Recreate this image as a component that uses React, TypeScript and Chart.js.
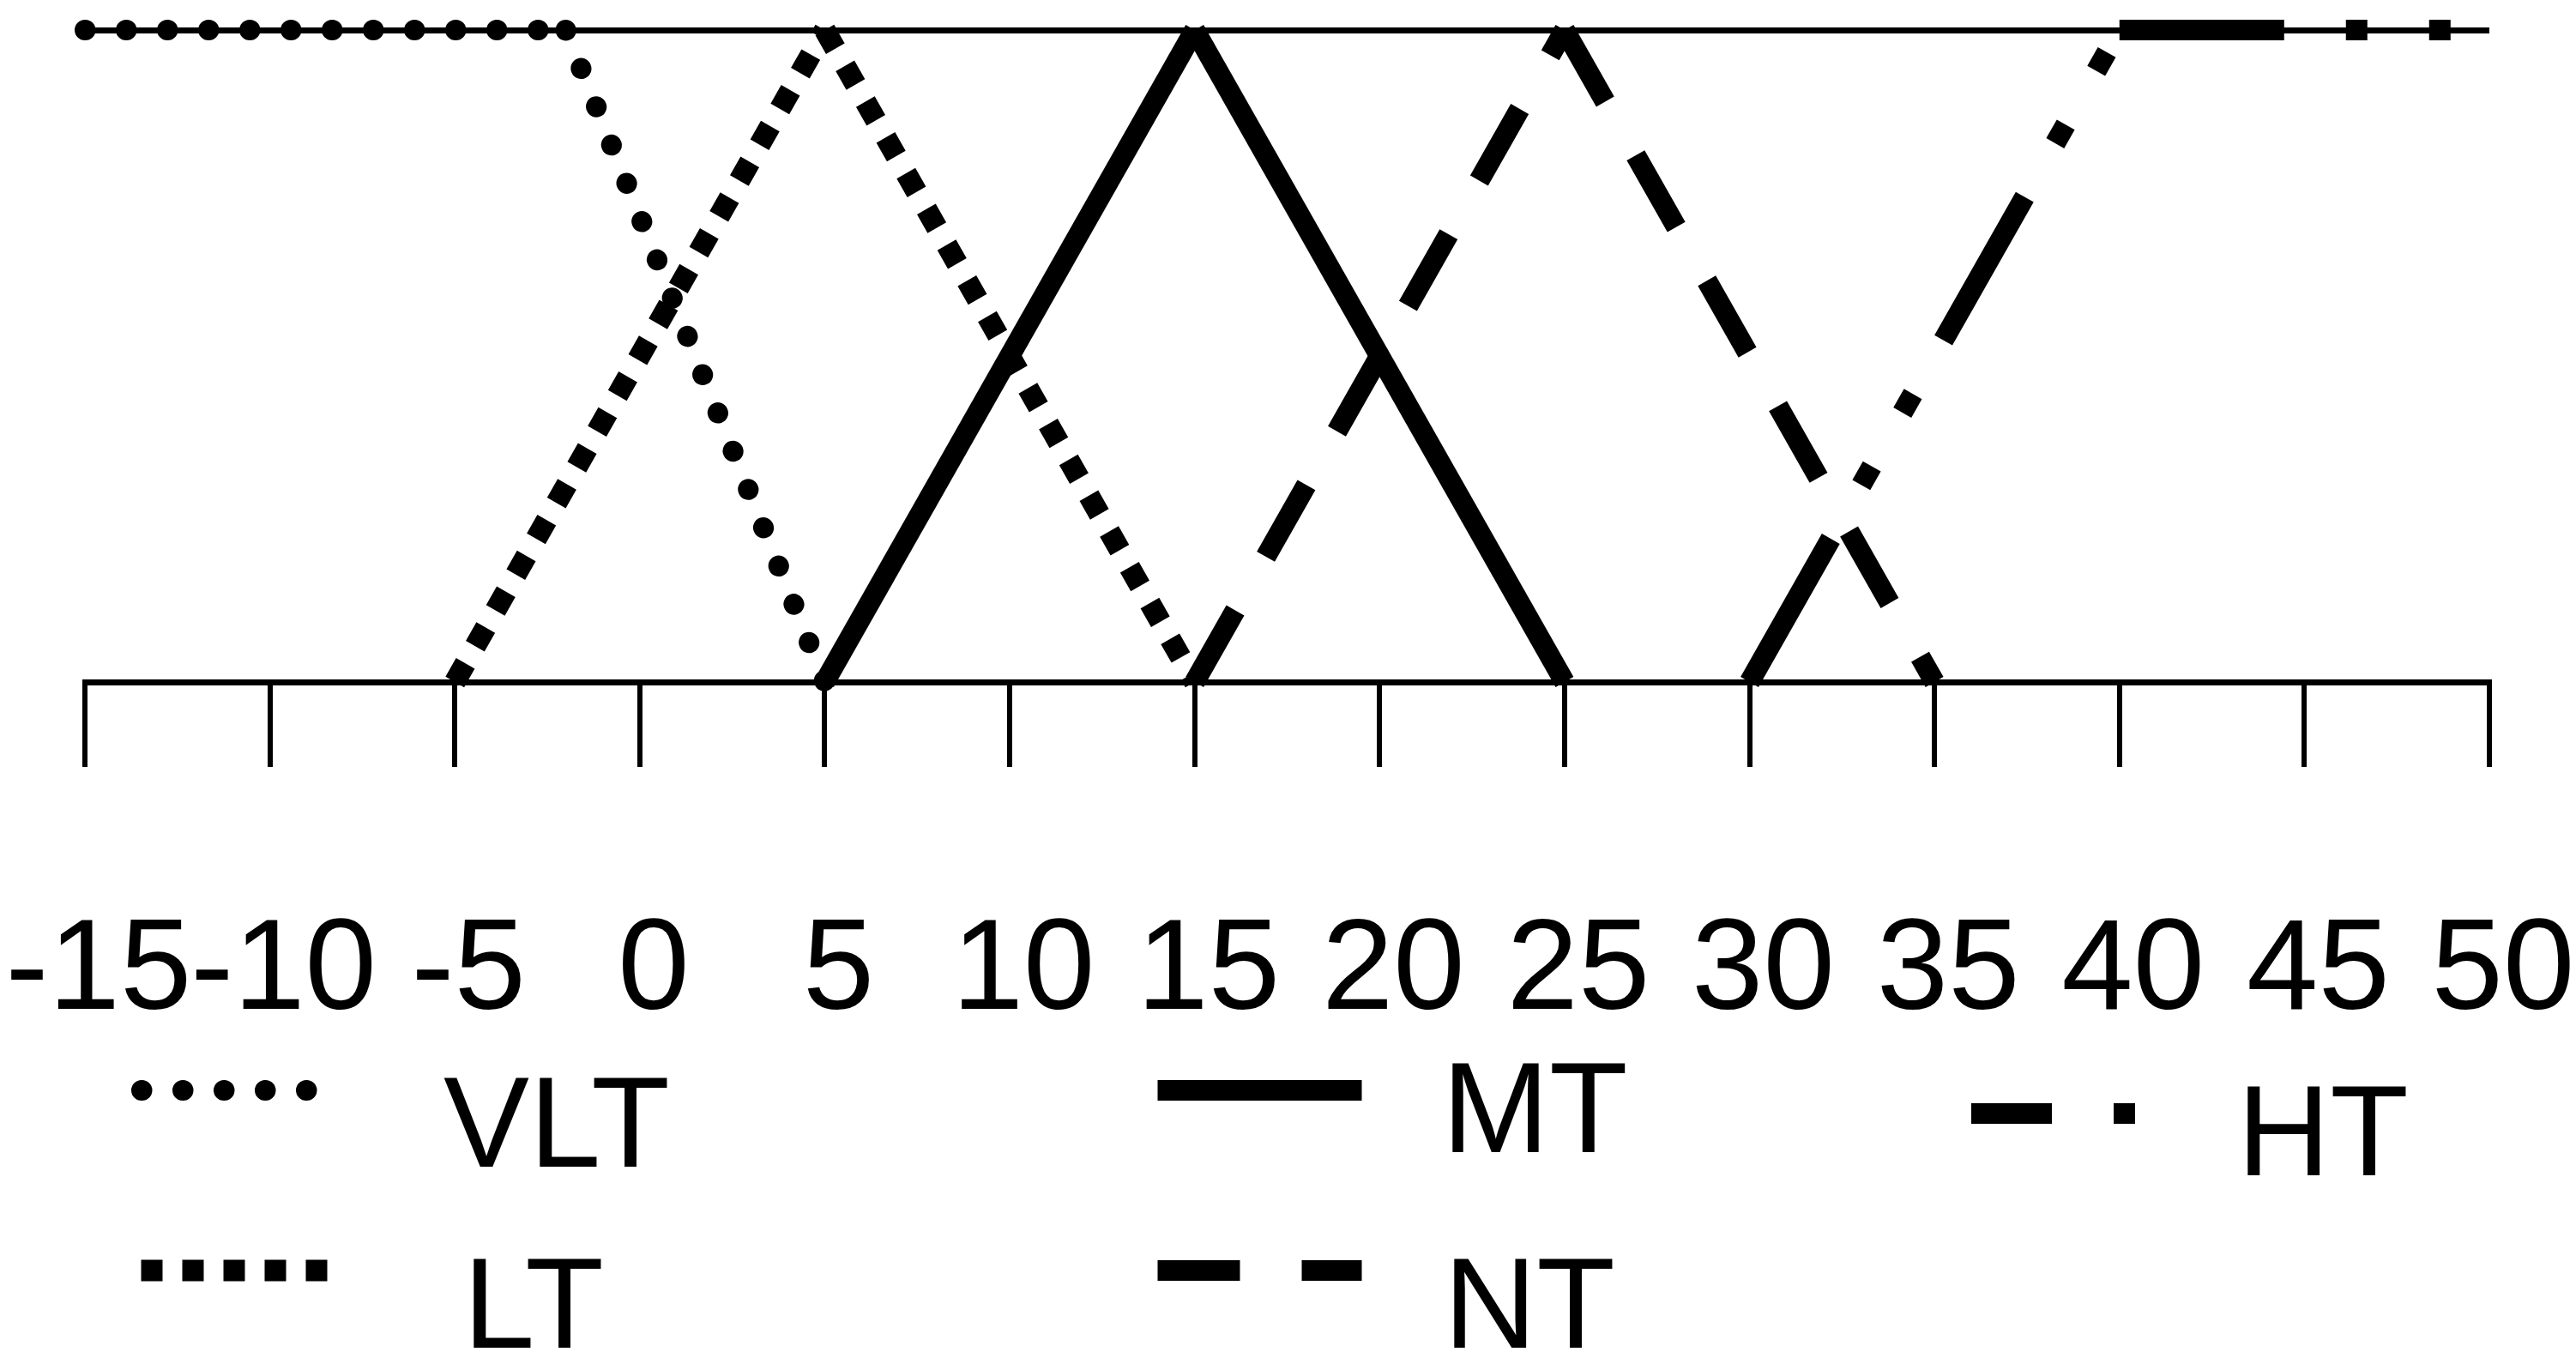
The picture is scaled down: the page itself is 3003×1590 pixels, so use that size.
import React, { useEffect, useRef } from 'react';
import { Chart, registerables } from 'chart.js';

Chart.register(...registerables);

// ---- data ----
const SERIES_NAMES = ['VLT', 'LT', 'MT', 'NT', 'HT'];
const VLT_X = [-15, -2, 5];
const VLT_Y = [1, 1, 0];
const LT_X = [-5, 5, 15];
const LT_Y = [0, 1, 0];
const MT_X = [5, 15, 25];
const MT_Y = [0, 1, 0];
const NT_X = [15, 25, 35];
const NT_Y = [0, 1, 0];
const HT_X = [30, 40, 50];
const HT_Y = [0, 1, 1];
const X_MIN = -15;
const X_MAX = 50;
const X_STEP = 5;
const Y_MIN = 0;
const Y_MAX = 1;

const SERIES_X = [VLT_X, LT_X, MT_X, NT_X, HT_X];
const SERIES_Y = [VLT_Y, LT_Y, MT_Y, NT_Y, HT_Y];

// ---- styles ----
const FONT = '"Liberation Sans", Arial, sans-serif';
const STYLES: any[] = [
  { borderWidth: 24, borderDash: [0.5, 47.5], borderCapStyle: 'round' },
  { borderWidth: 25, borderDash: [25, 23], borderCapStyle: 'butt' },
  { borderWidth: 24, borderDash: [], borderCapStyle: 'butt' },
  { borderWidth: 24, borderDash: [96, 72], borderCapStyle: 'butt' },
  { borderWidth: 24, borderDash: [192, 72, 25, 72, 25, 72], borderCapStyle: 'butt' },
];

// legend layout (pixel positions of sample line and label)
const LEGEND_LAYOUT = [
  { x0: 165, x1: 357.5, y: 1271, dashOffset: 0, tx: 517, ty: 1360 },
  { x0: 164.5, x1: 382.5, y: 1481, dashOffset: 0, tx: 540, ty: 1571 },
  { x0: 1349.5, x1: 1587.5, y: 1271, dashOffset: 0, tx: 1681, ty: 1343 },
  { x0: 1349.5, x1: 1587.5, y: 1481, dashOffset: 0, tx: 1683, ty: 1571 },
  { x0: 2298, x1: 2490, y: 1298, dashOffset: 98, tx: 2608, ty: 1370 },
];

const legendPlugin = {
  id: 'customLegend',
  afterDraw(chart: any) {
    const ctx = chart.ctx;
    chart.data.datasets.forEach((ds: any, i: number) => {
      const l = LEGEND_LAYOUT[i];
      ctx.save();
      ctx.strokeStyle = ds.borderColor;
      ctx.lineWidth = ds.borderWidth;
      ctx.lineCap = ds.borderCapStyle;
      ctx.setLineDash(ds.borderDash || []);
      ctx.lineDashOffset = l.dashOffset;
      ctx.beginPath();
      ctx.moveTo(l.x0, l.y);
      ctx.lineTo(l.x1, l.y);
      ctx.stroke();
      ctx.setLineDash([]);
      ctx.fillStyle = '#000';
      ctx.font = `150px ${FONT}`;
      ctx.textAlign = 'left';
      ctx.textBaseline = 'alphabetic';
      ctx.fillText(ds.label, l.tx, l.ty);
      ctx.restore();
    });
  },
};

export default function App() {
  const ref = useRef<HTMLCanvasElement | null>(null);

  useEffect(() => {
    const canvas = ref.current;
    if (!canvas) return;
    const datasets = SERIES_NAMES.map((name, i) => ({
      label: name,
      data: SERIES_X[i].map((x, j) => ({ x, y: SERIES_Y[i][j] })),
      borderColor: '#000',
      backgroundColor: '#000',
      borderWidth: STYLES[i].borderWidth,
      borderDash: STYLES[i].borderDash,
      borderCapStyle: STYLES[i].borderCapStyle,
      borderJoinStyle: 'miter',
      pointRadius: 0,
      tension: 0,
      fill: false,
      clip: false,
      segment: {
        borderDashOffset: (c: any) => c.p0DataIndex * 0.001,
      },
    }));

    const chart = new Chart(canvas, {
      type: 'line',
      data: { datasets } as any,
      options: {
        animation: false,
        responsive: false,
        devicePixelRatio: 1,
        layout: { padding: { left: 99, right: 101, top: 35, bottom: 345 } },
        plugins: {
          legend: { display: false },
          tooltip: { enabled: false },
        },
        scales: {
          x: {
            type: 'linear',
            min: X_MIN,
            max: X_MAX,
            afterFit: (s: any) => {
              s.paddingLeft = 0;
              s.paddingRight = 0;
              s.height = 450;
            },
            border: { display: true, color: '#000', width: 7 },
            grid: {
              display: true,
              drawOnChartArea: false,
              drawTicks: true,
              tickLength: 99,
              tickWidth: 6,
              tickColor: '#000',
              color: '#000',
              lineWidth: 6,
            },
            ticks: {
              stepSize: X_STEP,
              autoSkip: false,
              maxRotation: 0,
              minRotation: 0,
              padding: 151,
              labelOffset: 16,
              color: '#000',
              font: { family: FONT, size: 150 },
              callback: (v: any) => String(v),
            },
          },
          y: {
            type: 'linear',
            min: Y_MIN,
            max: Y_MAX,
            afterFit: (s: any) => {
              s.width = 0;
            },
            border: { display: false },
            grid: {
              display: true,
              drawTicks: false,
              lineWidth: 7,
              color: (c: any) => (c.tick && c.tick.value === Y_MAX ? '#000' : 'rgba(0,0,0,0)'),
            },
            ticks: { display: false, stepSize: 1 },
          },
        },
      } as any,
      plugins: [legendPlugin],
    });
    return () => chart.destroy();
  }, []);

  return (
    <div style={{ position: 'absolute', left: 0, top: 0, width: 3003, height: 1590, background: '#fff' }}>
      <canvas ref={ref} width={3003} height={1590} style={{ width: 3003, height: 1590, display: 'block' }} />
    </div>
  );
}
